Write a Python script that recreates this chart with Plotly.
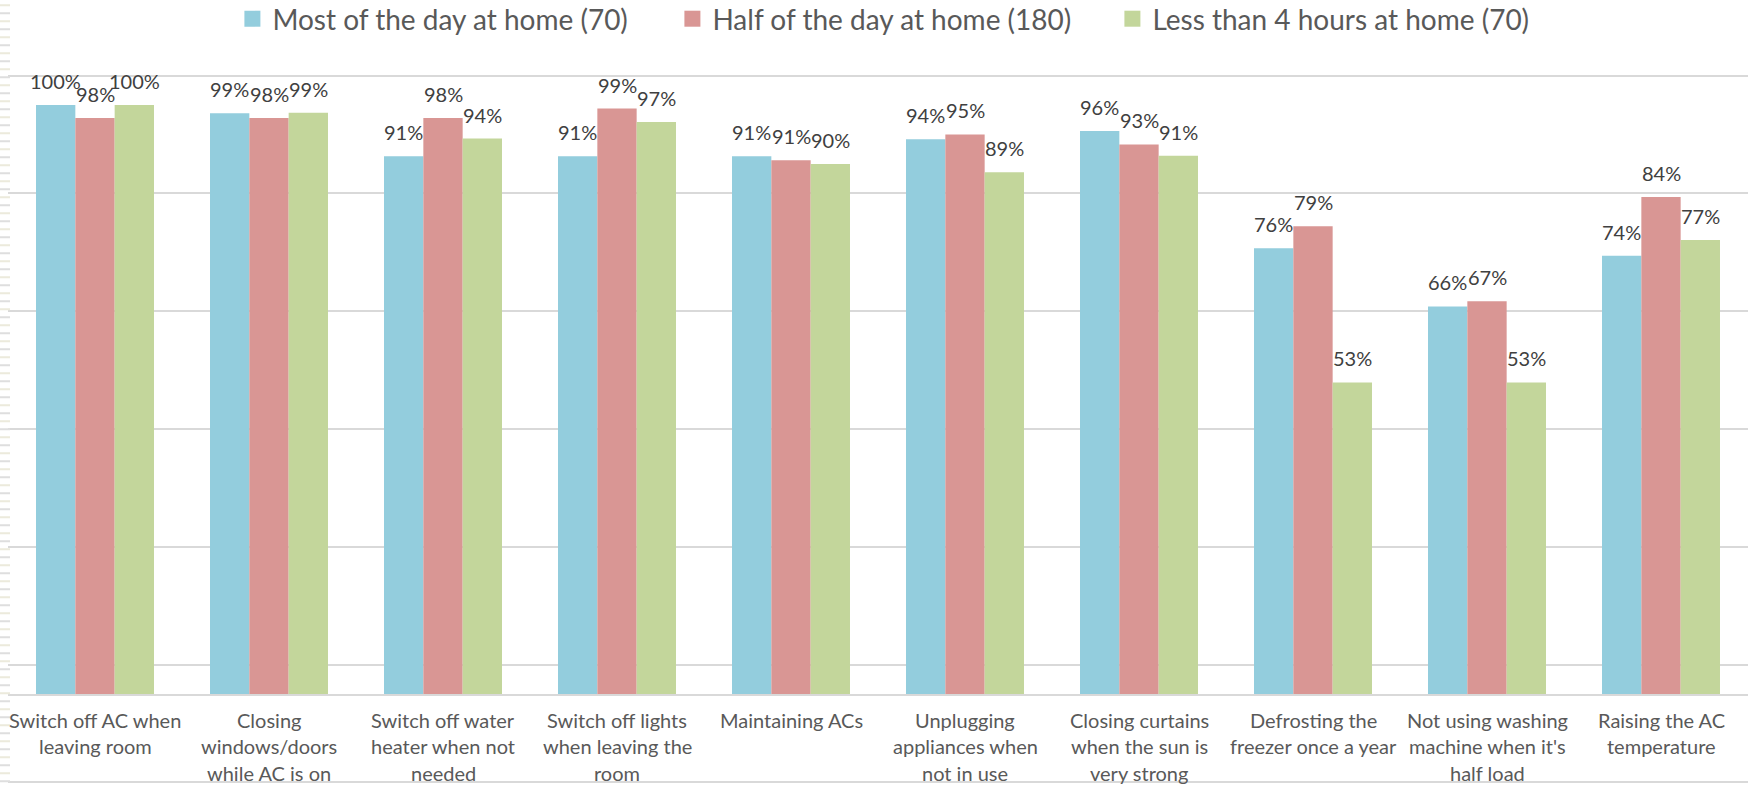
import plotly.graph_objects as go

categories = [
    "Switch off AC when<br>leaving room",
    "Closing<br>windows/doors<br>while AC is on",
    "Switch off water<br>heater when not<br>needed",
    "Switch off lights<br>when leaving the<br>room",
    "Maintaining ACs",
    "Unplugging<br>appliances when<br>not in use",
    "Closing curtains<br>when the sun is<br>very strong",
    "Defrosting the<br>freezer once a year",
    "Not using washing<br>machine when it's<br>half load",
    "Raising the AC<br>temperature",
]

most_of_day = [1.000, 0.986, 0.913, 0.913, 0.913, 0.942, 0.956, 0.757, 0.658, 0.744]
half_of_day = [0.978, 0.978, 0.978, 0.994, 0.906, 0.950, 0.933, 0.794, 0.667, 0.844]
less_than_4h = [1.000, 0.987, 0.943, 0.971, 0.900, 0.886, 0.914, 0.529, 0.529, 0.771]

series_names = ["Most of the day at home (70)", "Half of the day at home (180)", "Less than 4 hours at home (70)"]
series_values = [most_of_day, half_of_day, less_than_4h]
colors = ["#93CDDD", "#D99694", "#C3D69B"]

gridline_values = [0.05, 0.25, 0.45, 0.65, 0.85, 1.05]

W, H = 1749, 786
ML, MR, MT, MB = 8, 1, 60, 92
BARGAP = 0.322
PX_PER_UNIT = 589.0
plot_h = H - MT - MB
y_max = plot_h / PX_PER_UNIT
LABEL_FIRST = 25.5   # px below axis to centre of first label line
LABEL_STEP = 26.8    # px between label lines

fig = go.Figure()
xs = list(range(len(categories)))
for name, vals, col in zip(series_names, series_values, colors):
    fig.add_trace(go.Bar(x=xs, y=vals, name=name,
                         marker=dict(color=col, line=dict(width=0)),
                         showlegend=False, hoverinfo="y"))
for name, col in zip(series_names, colors):
    fig.add_trace(go.Scatter(x=[None], y=[None], name=name, mode="markers",
                             marker=dict(symbol="square", size=16, color=col)))

annotations = []
# data labels
n = len(series_values)
w = (1 - BARGAP) / n
for j, vals in enumerate(series_values):
    for i, v in enumerate(vals):
        annotations.append(dict(x=i + (j - (n - 1) / 2) * w, y=v, xref="x", yref="y",
                                text=f"{round(v * 100):d}%", showarrow=False,
                                yanchor="bottom", yshift=10,
                                font=dict(family="Lato", size=20, color="#404040")))
# category labels (one annotation per line for Excel-like line spacing)
for i, cat in enumerate(categories):
    for k, line in enumerate(cat.split("<br>")):
        annotations.append(dict(x=i, y=0, xref="x", yref="y", text=line, showarrow=False,
                                xanchor="center", yanchor="middle",
                                yshift=-(LABEL_FIRST + k * LABEL_STEP),
                                font=dict(family="Lato", size=20, color="#595959")))

shapes = []
# bottom frame line
yb = -(782 - (MT + plot_h)) / plot_h
shapes.append(dict(type="line", xref="paper", yref="paper", x0=0, x1=1, y0=yb, y1=yb,
                   line=dict(color="#D9D9D9", width=2)))
# left edge decorative dashes (spreadsheet row marks)
xc = (5 - ML) / (W - ML - MR)
for start_px, col in [(4.3, "#ECEADC"), (12.3, "#DEDEDE")]:
    shapes.append(dict(type="line", xref="paper", yref="paper", x0=xc, x1=xc,
                       y0=(MT + plot_h - start_px) / plot_h, y1=(MT + plot_h - H) / plot_h,
                       line=dict(color=col, width=10, dash="2px,14px")))

fig.update_layout(
    width=W, height=H,
    margin=dict(l=ML, r=MR, t=MT, b=MB, pad=0, autoexpand=False),
    paper_bgcolor="white", plot_bgcolor="white",
    barmode="group", bargap=BARGAP, bargroupgap=0,
    font=dict(family="Lato", color="#595959"),
    legend=dict(orientation="h", xref="container", yref="container",
                x=232.4 / W, xanchor="left",
                y=1 - 19 / H, yanchor="middle",
                font=dict(family="Lato", size=28, color="#595959"),
                entrywidth=395, entrywidthmode="pixels",
                bgcolor="rgba(0,0,0,0)"),
    annotations=annotations,
    shapes=shapes,
    xaxis=dict(tickmode="array", tickvals=xs, showticklabels=False,
               range=[-0.5, len(categories) - 0.5], automargin=False,
               showline=True, linecolor="#D9D9D9", linewidth=2,
               showgrid=False, ticks=""),
    yaxis=dict(range=[0, y_max], tickmode="array", tickvals=gridline_values, automargin=False,
               showticklabels=False, showgrid=True, gridcolor="#D9D9D9", gridwidth=1.5,
               zeroline=False, showline=False),
)

fig.write_html("out.html", config={"displayModeBar": False},
               post_script="document.body.style.margin='0';document.body.style.overflow='hidden';")
